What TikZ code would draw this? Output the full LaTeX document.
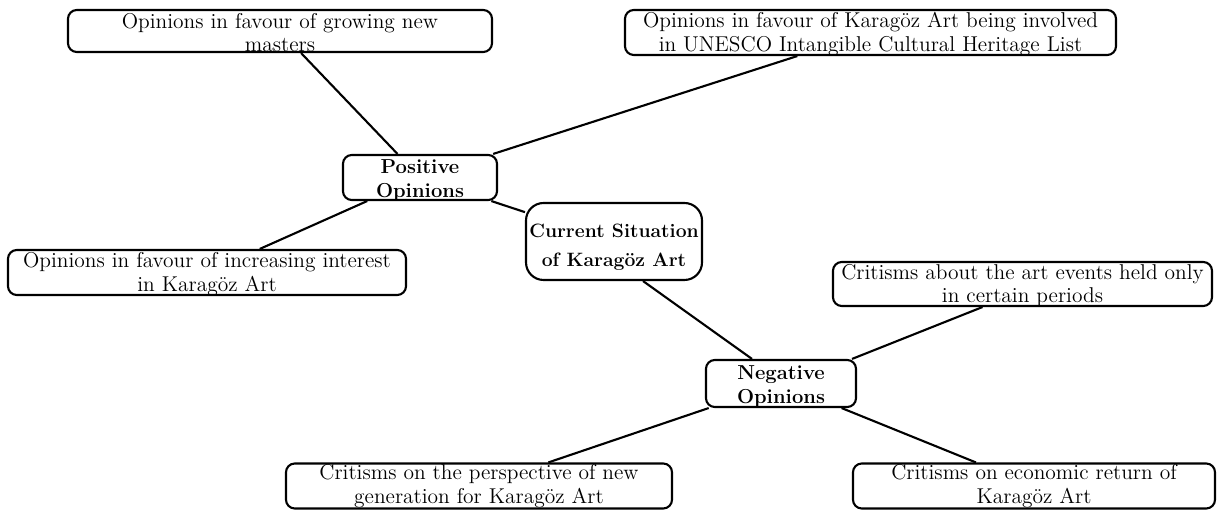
\documentclass[tikz,border=0pt]{standalone}
\usepackage{tikz}
\usetikzlibrary{positioning}

\begin{document}
\begin{tikzpicture}[
  box/.style={draw, line width=1.2pt, rounded corners=5pt, inner sep=0pt},
  txt/.style={align=center, inner sep=0pt, font=\fontsize{12.2}{13.4}\selectfont, yshift=-0.8pt},
  hubtxt/.style={txt, font=\fontsize{11.5}{13.5}\selectfont\bfseries, yshift=-1pt},
  line/.style={line width=1.2pt}]
  \useasboundingbox (0,0) rectangle (24.56,10.2);

  % 中心
  \node[box, rounded corners=10pt, minimum width=3.52cm, minimum height=1.54cm,
    label={[hubtxt, name=situation-text, font=\fontsize{11}{16.5}\selectfont\bfseries, yshift=-1.5pt]center:{Current Situation\\of Karagöz Art}}]
    (situation) at (12.28,5.37) {};

  % 肯定的な意見
  \node[box, minimum width=3.08cm, minimum height=0.9cm,
    label={[hubtxt, name=positive-text]center:{Positive\\Opinions}}] (positive) at (8.40,6.65) {};
  \node[box, minimum width=8.48cm, minimum height=0.84cm,
    label={[txt, name=masters-text]center:{Opinions in favour of growing new\\masters}}] (masters) at (5.60,9.58) {};
  \node[box, minimum width=9.82cm, minimum height=0.9cm,
    label={[txt, name=unesco-text]center:{Opinions in favour of Karagöz Art being involved\\in UNESCO Intangible Cultural Heritage List}}]
    (unesco) at (17.41,9.55) {};
  \node[box, minimum width=7.96cm, minimum height=0.9cm,
    label={[txt, name=interest-text]center:{Opinions in favour of increasing interest\\in Karagöz Art}}] (interest) at (4.14,4.75) {};

  % 否定的な意見
  \node[box, minimum width=3.0cm, minimum height=0.94cm,
    label={[hubtxt, name=negative-text, yshift=0pt]center:{Negative\\Opinions}}] (negative) at (15.62,2.53) {};
  \node[box, minimum width=7.58cm, minimum height=0.88cm,
    label={[txt, name=events-text]center:{Critisms about the art events held only\\in certain periods}}] (events) at (20.45,4.52) {};
  \node[box, minimum width=7.72cm, minimum height=0.9cm,
    label={[txt, name=generation-text, yshift=0.8pt]center:{Critisms on the perspective of new\\generation for Karagöz Art}}] (generation) at (9.58,0.48) {};
  \node[box, minimum width=7.24cm, minimum height=0.9cm,
    label={[txt, name=economic-text, yshift=0.8pt]center:{Critisms on economic return of\\Karagöz Art}}] (economic) at (20.68,0.48) {};

  % 線
  \draw[line] (positive) -- (masters);
  \draw[line] (positive) -- (unesco);
  \draw[line] (positive) -- (interest);
  \draw[line] (positive) -- (situation);
  \draw[line] ([xshift=0.58cm]situation.south) -- ([xshift=-0.58cm]negative.north);
  \draw[line] ([xshift=-0.1cm]negative.north east) -- ([xshift=-0.8cm]events.south);
  \draw[line] (negative) -- (generation);
  \draw[line] (negative) -- (economic);
\end{tikzpicture}
\end{document}
